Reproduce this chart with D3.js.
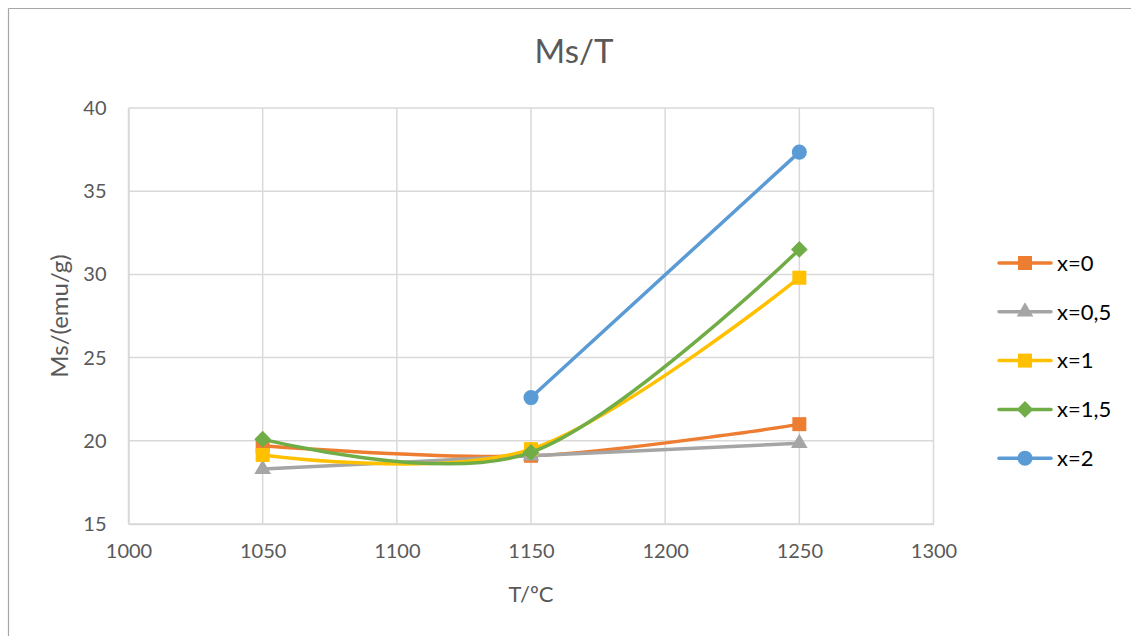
<!DOCTYPE html>
<html><head><meta charset="utf-8">
<script src="https://cdn.jsdelivr.net/npm/d3@7"></script>
<style>html,body{margin:0;padding:0;background:#fff;}svg{display:block;font-family:Lato,"Open Sans",sans-serif;}</style>
</head><body>
<script>
const title = "Ms/T";
const xTitle = "T/ºC";
const yTitle = "Ms/(emu/g)";
const temperatures = [1050, 1150, 1250];
const seriesNames = ["x=0", "x=0,5", "x=1", "x=1,5", "x=2"];
const s_x0  = [19.7, 19.1, 21.0];
const s_x05 = [18.3, 19.1, 19.85];
const s_x1  = [19.15, 19.5, 29.8];
const s_x15 = [20.1, 19.3, 31.5];
const s_x2  = [null, 22.6, 37.35];
const seriesValues = [s_x0, s_x05, s_x1, s_x15, s_x2];
const seriesColors = ["#ED7D31", "#A5A5A5", "#FFC000", "#70AD47", "#5B9BD5"];
const seriesMarkers = ["square", "triangle", "square", "diamond", "circle"];
const xTicks = [1000, 1050, 1100, 1150, 1200, 1250, 1300];
const yTicks = [15, 20, 25, 30, 35, 40];

const W = 1131, H = 636;
const svg = d3.select("body").append("svg").attr("width", W).attr("height", H);
svg.append("rect").attr("width", W).attr("height", H).attr("fill", "#fff");
svg.append("line").attr("x1", 8.5).attr("x2", W).attr("y1", 8.5).attr("y2", 8.5).attr("stroke", "#a6a6a6").attr("stroke-width", 1.2);
svg.append("line").attr("x1", 8.5).attr("x2", 8.5).attr("y1", 8.5).attr("y2", H).attr("stroke", "#a6a6a6").attr("stroke-width", 1.2);

const x = d3.scaleLinear().domain([1000, 1300]).range([128.5, 933.5]);
const y = d3.scaleLinear().domain([15, 40]).range([524, 108]);

const g = svg.append("g");
g.selectAll(".vg").data(xTicks).join("line")
  .attr("x1", d => x(d)).attr("x2", d => x(d)).attr("y1", y(40)).attr("y2", y(15))
  .attr("stroke", "#d9d9d9").attr("stroke-width", 1.5);
g.selectAll(".hg").data(yTicks).join("line")
  .attr("x1", x(1000)).attr("x2", x(1300)).attr("y1", d => y(d)).attr("y2", d => y(d))
  .attr("stroke", "#d9d9d9").attr("stroke-width", 1.5);

const xAxis = svg.append("g").attr("transform", `translate(0,${y(15)})`)
  .call(d3.axisBottom(x).tickValues(xTicks).tickSize(0).tickPadding(20).tickFormat(d3.format("d")));
const yAxis = svg.append("g").attr("transform", `translate(${x(1000)},0)`)
  .call(d3.axisLeft(y).tickValues(yTicks).tickSize(0).tickPadding(22));
[xAxis, yAxis].forEach(a => {
  a.select(".domain").attr("stroke", "#d9d9d9").attr("stroke-width", 1.5);
  a.selectAll("text").attr("fill", "#595959").style("font-size", "20px").style("font-family", "Lato,'Open Sans',sans-serif");
});

svg.append("text").attr("x", 574).attr("y", 63).attr("text-anchor", "middle")
  .attr("fill", "#595959").style("font-size", "33px").text(title);
svg.append("text").attr("x", 531).attr("y", 602).attr("text-anchor", "middle")
  .attr("fill", "#595959").style("font-size", "22px").text(xTitle);
svg.append("text").attr("transform", `translate(68,${(y(15)+y(40))/2}) rotate(-90)`).attr("text-anchor", "middle")
  .attr("fill", "#595959").style("font-size", "24px").text(yTitle);

const diamond = { draw(ctx, size) { const r = Math.sqrt(size / 2); ctx.moveTo(0, -r); ctx.lineTo(r, 0); ctx.lineTo(0, r); ctx.lineTo(-r, 0); ctx.closePath(); } };
const symType = {square: d3.symbolSquare, triangle: d3.symbolTriangle, diamond: diamond, circle: d3.symbolCircle};
const symSize = {square: 196, triangle: 120, diamond: 140, circle: 180};

const line = d3.line().x(d => x(d.t)).y(d => y(d.v)).curve(d3.curveCatmullRom.alpha(0));

seriesValues.forEach((vals, i) => {
  const pts = temperatures.map((t, j) => ({t, v: vals[j]}));
  const defined = pts.filter(p => p.v !== null);
  svg.append("path").datum(defined).attr("d", line).attr("fill", "none")
    .attr("stroke", seriesColors[i]).attr("stroke-width", 3.5).attr("stroke-linejoin", "round").attr("stroke-linecap", "round");
  svg.append("g").selectAll("path").data(defined).join("path")
    .attr("transform", d => `translate(${x(d.t)},${y(d.v)})`)
    .attr("d", d3.symbol().type(symType[seriesMarkers[i]]).size(symSize[seriesMarkers[i]]))
    .attr("fill", seriesColors[i]);
});

const leg = svg.append("g");
seriesNames.forEach((n, i) => {
  const ly = 263 + i * 48.8;
  leg.append("line").attr("x1", 999).attr("x2", 1051).attr("y1", ly).attr("y2", ly)
    .attr("stroke", seriesColors[i]).attr("stroke-width", 3.5).attr("stroke-linecap", "round");
  leg.append("path").attr("transform", `translate(1025,${ly})`)
    .attr("d", d3.symbol().type(symType[seriesMarkers[i]]).size(symSize[seriesMarkers[i]]))
    .attr("fill", seriesColors[i]);
  leg.append("text").attr("x", 1057).attr("y", ly).attr("dy", "0.35em")
    .attr("fill", "#000").style("font-size", "22px").text(n);
});
</script>
</body></html>
